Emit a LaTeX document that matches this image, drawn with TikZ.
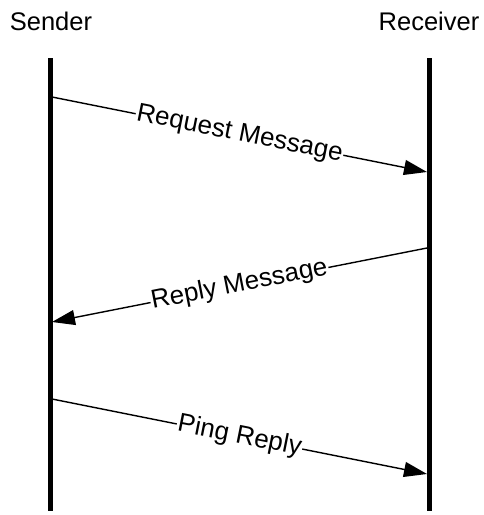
\documentclass[tikz,border=0pt]{standalone}
\usepackage{fontspec}
\setmainfont{Liberation Sans}
\usetikzlibrary{arrows.meta}
\begin{document}
\begin{tikzpicture}[x=1pt,y=-1pt,
  actor/.style={font=\fontsize{25.5}{28}\selectfont, inner sep=0pt},
  lifeline/.style={line width=5pt},
  msg/.style={line width=1.4pt, -{Triangle[length=23pt,width=15pt]}},
  msglabel/.style={font=\fontsize{26}{29}\selectfont, fill=white, inner sep=1pt, sloped}]
\useasboundingbox (0,0) rectangle (484,515);
\node[actor] (sender) at (51,21) {Sender};
\node[actor] (receiver) at (429,21) {Receiver};
\coordinate (stop) at (50,58);
\coordinate (sbot) at (50,511);
\coordinate (rtop) at (429,58);
\coordinate (rbot) at (429,511);
\draw[lifeline] (stop) -- (sbot);
\draw[lifeline] (rtop) -- (rbot);
\coordinate (m1s) at (52,97);
\coordinate (m1e) at (427,172);
\coordinate (m2s) at (427,248);
\coordinate (m2e) at (52,322);
\coordinate (m3s) at (52,399);
\coordinate (m3e) at (427,474);
\draw[msg] (m1s) -- node[msglabel] {Request Message} (m1e);
\draw[msg] (m2s) -- node[msglabel] {Reply Message} (m2e);
\draw[msg] (m3s) -- node[msglabel] {Ping Reply} (m3e);
\end{tikzpicture}
\end{document}
